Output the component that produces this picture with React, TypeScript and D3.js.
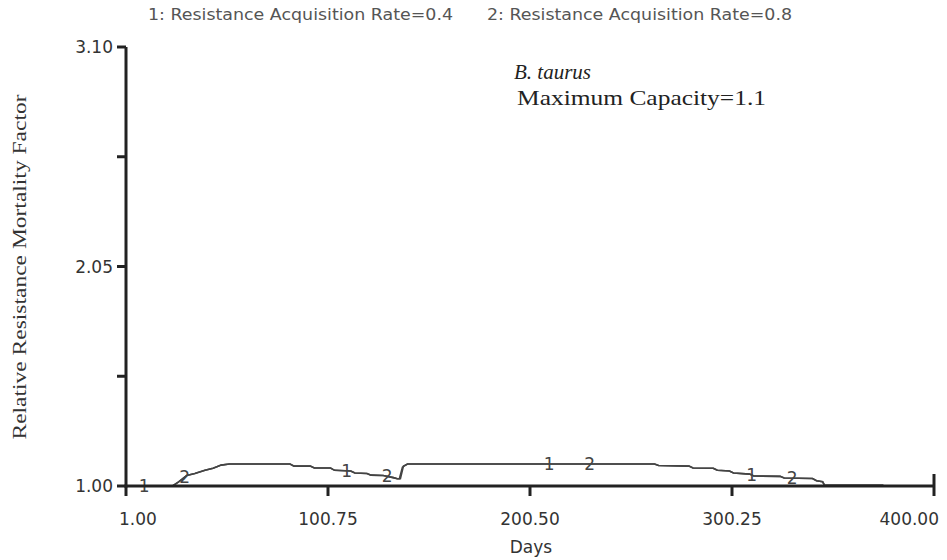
import React from "react";
import * as d3 from "d3";

// series data (day, relative mortality factor)
const days1 = [1, 24, 27, 31, 35, 40, 44, 48, 52, 82, 84, 92, 94, 102, 104, 112, 114, 120, 122, 128, 133, 135, 136.5, 138, 140, 262, 264, 279, 281, 291, 293, 299, 301, 309, 311, 324, 326, 340, 342, 345, 346, 375];
const vals1 = [1.0, 1.0, 1.02, 1.05, 1.06, 1.075, 1.085, 1.1, 1.105, 1.105, 1.095, 1.095, 1.086, 1.086, 1.075, 1.072, 1.062, 1.06, 1.052, 1.05, 1.04, 1.035, 1.035, 1.095, 1.105, 1.105, 1.098, 1.095, 1.086, 1.085, 1.075, 1.072, 1.062, 1.057, 1.048, 1.046, 1.038, 1.036, 1.025, 1.02, 1.003, 1.003];
const days2 = [1, 24, 27, 31, 35, 40, 44, 48, 52, 82, 84, 92, 94, 102, 104, 112, 114, 120, 122, 128, 133, 135, 136, 137.5, 140, 262, 264, 279, 281, 291, 293, 299, 301, 309, 311, 324, 326, 340, 342, 345, 346, 375];
const vals2 = [1.0, 1.0, 1.02, 1.05, 1.06, 1.075, 1.085, 1.1, 1.105, 1.105, 1.095, 1.095, 1.086, 1.086, 1.075, 1.072, 1.062, 1.06, 1.052, 1.05, 1.04, 1.035, 1.035, 1.09, 1.105, 1.105, 1.098, 1.095, 1.086, 1.085, 1.075, 1.072, 1.062, 1.057, 1.048, 1.046, 1.038, 1.036, 1.025, 1.02, 1.003, 1.003];

const labelDays1 = [10, 110, 210, 310];
const labelDays2 = [30, 130, 230, 330];

const xTicks = [1, 100.75, 200.5, 300.25, 400];
const yTicks = [1, 1.525, 2.05, 2.575, 3.1];
const yLabels = [1, 2.05, 3.1];

const legend = ["1: Resistance Acquisition Rate=0.4", "2: Resistance Acquisition Rate=0.8"];

const W = 947;
const H = 560;

function valueAt(days: number[], vals: number[], d: number) {
  const i = d3.bisectLeft(days, d);
  if (i <= 0) return vals[0];
  if (i >= days.length) return vals[vals.length - 1];
  const t = (d - days[i - 1]) / (days[i] - days[i - 1]);
  return vals[i - 1] + t * (vals[i] - vals[i - 1]);
}

export default function App() {
  const x = d3.scaleLinear().domain([1, 400]).range([126, 934]);
  const y = d3.scaleLinear().domain([1, 3.1]).range([486, 47]);

  const path = (days: number[], vals: number[]) =>
    d3
      .line<number>()
      .x((_, i) => x(days[i]))
      .y((_, i) => y(vals[i]))(vals) || "";

  const sans = "'DejaVu Sans', Verdana, sans-serif";
  const serif = "'Liberation Serif', 'Times New Roman', serif";
  const ink = "#333";

  return (
    <svg width={W} height={H} style={{ position: "absolute", left: 0, top: 0, background: "#fff" }}>
      {/* legend */}
      <text x={148} y={20} fontFamily={sans} fontSize={16.5} fill="#555" textLength={305} lengthAdjust="spacingAndGlyphs">
        {legend[0]}
      </text>
      <text x={487} y={20} fontFamily={sans} fontSize={16.5} fill="#555" textLength={305} lengthAdjust="spacingAndGlyphs">
        {legend[1]}
      </text>

      {/* annotation */}
      <text x={514} y={79} fontFamily={serif} fontSize={21} fontStyle="italic" fill="#222">
        B. taurus
      </text>
      <text x={517} y={105} fontFamily={serif} fontSize={22} fill="#222" textLength={249} lengthAdjust="spacingAndGlyphs">
        Maximum Capacity=1.1
      </text>

      {/* series */}
      <path d={path(days1, vals1)} fill="none" stroke="#444" strokeWidth={1.6} />
      <path d={path(days2, vals2)} fill="none" stroke="#444" strokeWidth={1.6} />

      {labelDays1.map((d, i) => (
        <text key={"a" + i} x={x(d)} y={y(valueAt(days1, vals1, d)) + 6} textAnchor="middle" fontFamily={sans} fontSize={17} fill="#444">
          1
        </text>
      ))}
      {labelDays2.map((d, i) => (
        <text key={"b" + i} x={x(d)} y={y(valueAt(days2, vals2, d)) + 6} textAnchor="middle" fontFamily={sans} fontSize={17} fill="#444">
          2
        </text>
      ))}

      {/* axes */}
      <line x1={x(1)} x2={x(1)} y1={y(3.1)} y2={y(1) + 1.5} stroke="#222" strokeWidth={3} />
      <line x1={x(1) - 1.5} x2={x(400) + 1} y1={y(1)} y2={y(1)} stroke="#222" strokeWidth={3} />
      {yTicks.map((t) => (
        <line key={t} x1={x(1) - 9} x2={x(1)} y1={y(t)} y2={y(t)} stroke="#222" strokeWidth={3} />
      ))}
      {xTicks.map((t, i) => (
        <line key={t} x1={x(t)} x2={x(t)} y1={i === xTicks.length - 1 ? y(1) - 12 : y(1)} y2={y(1) + 10} stroke="#222" strokeWidth={3} />
      ))}

      {yLabels.map((t) => (
        <text key={t} x={113} y={y(t) + 6} textAnchor="end" fontFamily={sans} fontSize={17} fill={ink}>
          {t.toFixed(2)}
        </text>
      ))}
      {xTicks.map((t, i) => (
        <text
          key={t}
          x={i === 0 ? 119 : i === xTicks.length - 1 ? 939 : x(t)}
          y={525}
          textAnchor={i === 0 ? "start" : i === xTicks.length - 1 ? "end" : "middle"}
          fontFamily={sans}
          fontSize={17}
          fill={ink}
        >
          {t.toFixed(2)}
        </text>
      ))}

      <text x={531} y={553} textAnchor="middle" fontFamily={sans} fontSize={17} fill={ink}>
        Days
      </text>
      <text
        transform={`translate(26,267) rotate(-90)`}
        textAnchor="middle"
        fontFamily={serif}
        fontSize={19}
        fill={ink}
        textLength={345}
        lengthAdjust="spacingAndGlyphs"
      >
        Relative Resistance Mortality Factor
      </text>
    </svg>
  );
}
